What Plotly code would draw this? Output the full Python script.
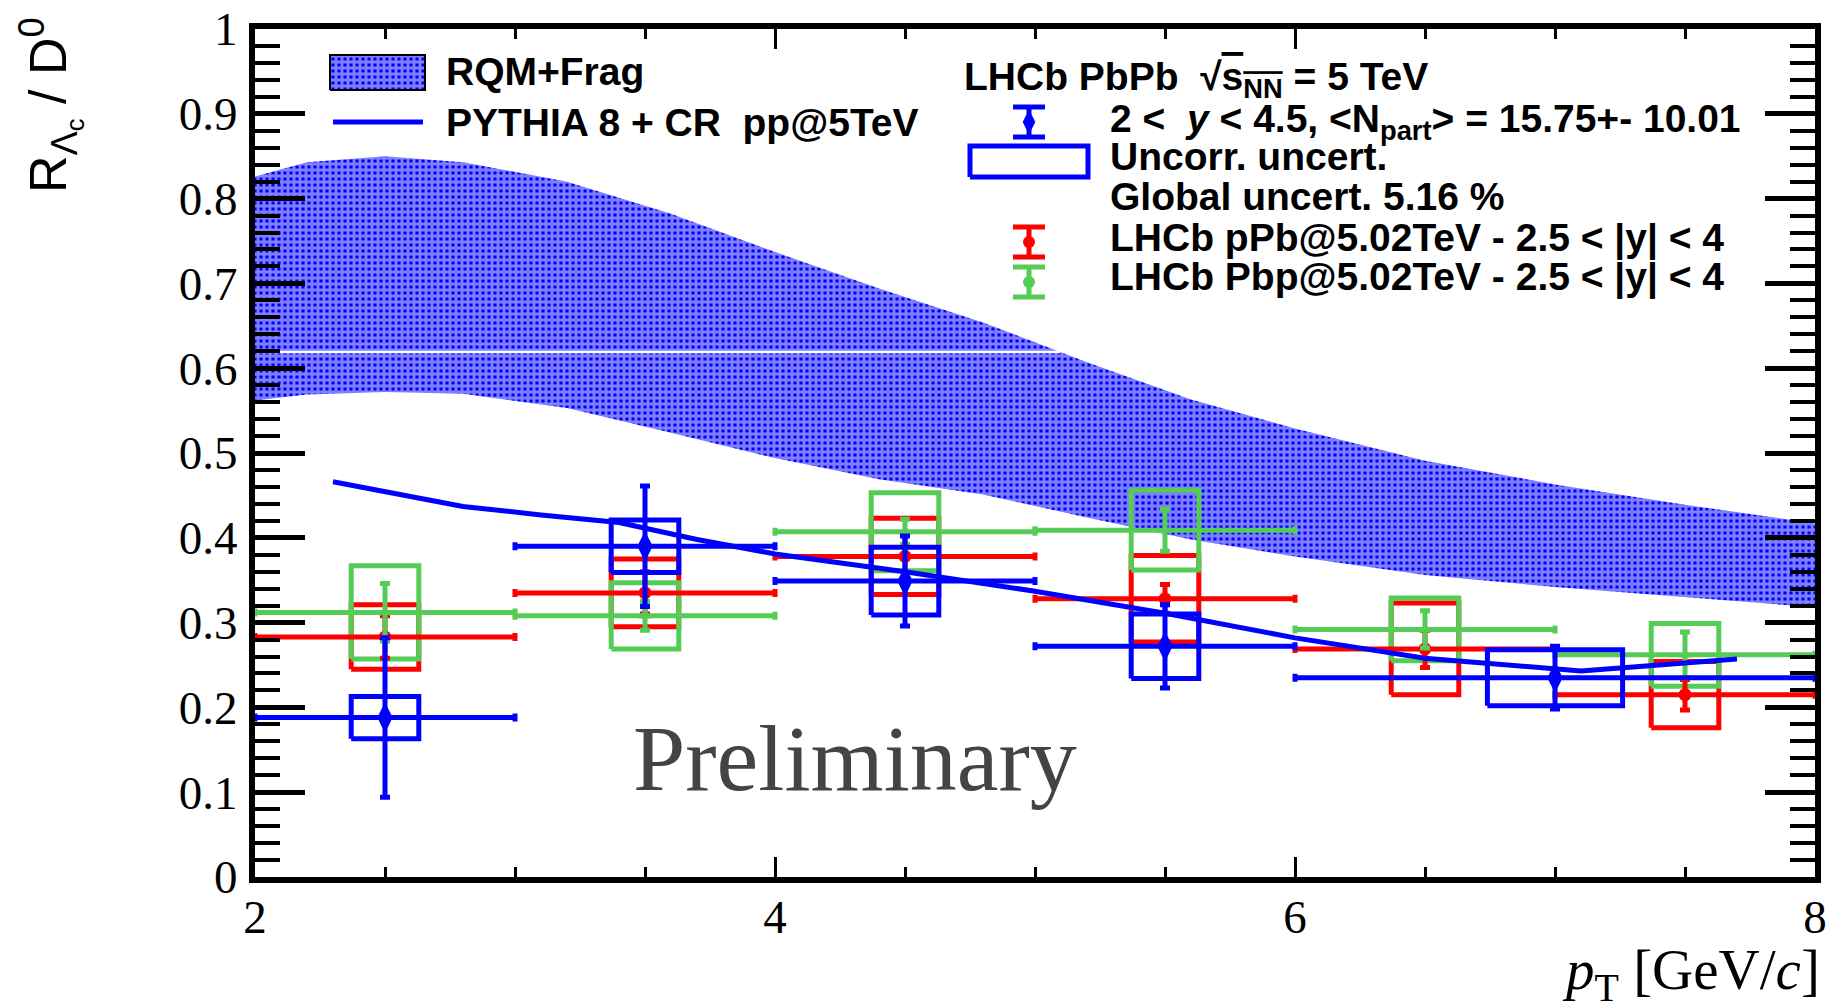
import numpy as np
import plotly.graph_objects as go

# ---------------- data ----------------
# RQM+Frag theory band
band_pt = [2.0, 2.2, 2.5, 2.8, 3.2, 3.6, 4.0, 4.4, 4.8, 5.2, 5.6, 6.0, 6.5, 7.0, 7.5, 8.0]
band_hi = [0.826, 0.843, 0.850, 0.843, 0.820, 0.782, 0.737, 0.694, 0.654, 0.607, 0.563, 0.529, 0.491, 0.463, 0.439, 0.417]
band_lo = [0.562, 0.569, 0.572, 0.570, 0.553, 0.524, 0.494, 0.469, 0.451, 0.424, 0.398, 0.378, 0.356, 0.342, 0.330, 0.318]
band_seam = 0.619

# PYTHIA 8 + CR pp@5TeV
pythia_pt = [2.3, 2.5, 2.8, 3.1, 3.4, 3.7, 4.0, 4.5, 5.0, 5.5, 6.0, 6.5, 7.0, 7.1, 7.4, 7.7]
pythia_r = [0.466, 0.455, 0.437, 0.427, 0.418, 0.398, 0.381, 0.360, 0.337, 0.311, 0.282, 0.258, 0.245, 0.243, 0.250, 0.257]

# LHCb PbPb
pbpb_pt = [2.5, 3.5, 4.5, 5.5, 7.0]
pbpb_bin = [0.5, 0.5, 0.5, 0.5, 1.0]
pbpb_r = [0.188, 0.390, 0.349, 0.272, 0.235]
pbpb_stat = [0.094, 0.071, 0.053, 0.049, 0.037]
pbpb_syst = [0.025, 0.031, 0.040, 0.038, 0.033]

# LHCb pPb
ppb_pt = [2.5, 3.5, 4.5, 5.5, 6.5, 7.5]
ppb_bin = [0.5, 0.5, 0.5, 0.5, 0.5, 0.5]
ppb_r = [0.283, 0.335, 0.378, 0.328, 0.269, 0.215]
ppb_stat = [0.025, 0.025, 0.025, 0.017, 0.022, 0.018]
ppb_syst = [0.038, 0.040, 0.045, 0.051, 0.054, 0.039]

# LHCb Pbp
pbp_pt = [2.5, 3.5, 4.5, 5.5, 6.5, 7.5]
pbp_bin = [0.5, 0.5, 0.5, 0.5, 0.5, 0.5]
pbp_r = [0.312, 0.308, 0.407, 0.409, 0.292, 0.262]
pbp_stat = [0.034, 0.017, 0.015, 0.025, 0.022, 0.027]
pbp_syst = [0.055, 0.039, 0.046, 0.047, 0.037, 0.037]

x_ticks = [2, 4, 6, 8]

# ---------------- style ----------------
BLUE = "#0000ff"
RED = "#ff0000"
GREEN = "#55cc55"
BOX_FRAC = 0.26
LW = 5
SANS = "Liberation Sans, Arial, sans-serif"
SERIF = "Liberation Serif, Times New Roman, serif"
PATTERN = dict(shape="+", fgcolor="white", bgcolor=BLUE, size=6, solidity=0.72)

# plot-area geometry in pixels (for paper conversions of legend items)
L, R, T, B = 255, 1815, 29, 877
W, H = 1834, 1008


def PX(px):
    return (px - L) / (R - L)


def PY(py):
    return (B - py) / (B - T)


def box_path(xs, bins, ys, sy):
    bx, by = [], []
    for x, b, y, s in zip(xs, bins, ys, sy):
        h = BOX_FRAC * b
        bx += [x - h, x + h, x + h, x - h, x - h, None]
        by += [y - s, y - s, y + s, y + s, y - s, None]
    return bx, by


fig = go.Figure()

# theory band
fig.add_trace(go.Scatter(
    x=band_pt + band_pt[::-1], y=band_hi + band_lo[::-1],
    fill="toself", mode="lines", line=dict(width=0, color=BLUE),
    fillcolor=BLUE, fillpattern=PATTERN,
    hoverinfo="skip", showlegend=False))

# seam artefact in the band
hi_arr = np.array(band_hi)
pt_arr = np.array(band_pt)
seam_end = float(np.interp(band_seam, hi_arr[::-1], pt_arr[::-1]))
fig.add_trace(go.Scatter(x=[band_pt[0], seam_end], y=[band_seam, band_seam], mode="lines",
                         line=dict(color="white", width=2.5), hoverinfo="skip", showlegend=False))


def add_boxes(xs, bins, ys, sy, color):
    bx, by = box_path(xs, bins, ys, sy)
    fig.add_trace(go.Scatter(x=bx, y=by, mode="lines", line=dict(color=color, width=LW),
                             hoverinfo="skip", showlegend=False))


def add_points(xs, bins, ys, st, color, symbol, size):
    fig.add_trace(go.Scatter(
        x=xs, y=ys, mode="markers",
        marker=dict(color=color, symbol=symbol, size=size, line=dict(width=0)),
        error_x=dict(type="data", array=bins, symmetric=True, color=color, thickness=LW, width=4),
        error_y=dict(type="data", array=st, symmetric=True, color=color, thickness=LW, width=5),
        showlegend=False))


add_boxes(ppb_pt, ppb_bin, ppb_r, ppb_syst, RED)
add_boxes(pbp_pt, pbp_bin, pbp_r, pbp_syst, GREEN)
add_points(ppb_pt, ppb_bin, ppb_r, ppb_stat, RED, "circle", 13)
add_points(pbp_pt, pbp_bin, pbp_r, pbp_stat, GREEN, "triangle-up", 11)
add_boxes(pbpb_pt, pbpb_bin, pbpb_r, pbpb_syst, BLUE)
add_points(pbpb_pt, pbpb_bin, pbpb_r, pbpb_stat, BLUE, "diamond-tall", 22)

# PYTHIA curve
fig.add_trace(go.Scatter(x=pythia_pt, y=pythia_r, mode="lines",
                         line=dict(color=BLUE, width=LW), showlegend=False))

# ---------------- legend glyphs (overlay paper-like axes) ----------------
sx0, sx1, sy0, sy1 = PX(330), PX(425), PY(90), PY(55)
fig.add_trace(go.Scatter(
    x=[sx0, sx1, sx1, sx0, sx0], y=[sy0, sy0, sy1, sy1, sy0], xaxis="x2", yaxis="y2",
    fill="toself", mode="lines", line=dict(color="black", width=2), fillcolor=BLUE,
    fillpattern=PATTERN, hoverinfo="skip", showlegend=False))
fig.add_trace(go.Scatter(x=[PX(333), PX(423)], y=[PY(122), PY(122)], xaxis="x2", yaxis="y2",
                         mode="lines", line=dict(color=BLUE, width=LW), showlegend=False))

gx = PX(1029)
half_cap = 8


def legend_err(py, color, symbol, size):
    fig.add_trace(go.Scatter(
        x=[gx], y=[PY(py)], xaxis="x2", yaxis="y2", mode="markers",
        marker=dict(color=color, symbol=symbol, size=size),
        error_y=dict(type="constant", value=15 / (B - T), color=color, thickness=LW, width=half_cap * 2),
        showlegend=False))


legend_err(122, BLUE, "diamond-tall", 18)
legend_err(242, RED, "circle", 12)
legend_err(282, GREEN, "circle", 12)
bx0, bx1, by0, by1 = PX(970), PX(1088), PY(177), PY(146)
fig.add_trace(go.Scatter(x=[bx0, bx1, bx1, bx0, bx0], y=[by0, by0, by1, by1, by0], xaxis="x2", yaxis="y2",
                         mode="lines", line=dict(color=BLUE, width=LW), showlegend=False))

# ---------------- annotations ----------------
LEGFONT = dict(family=SANS, size=39, color="black")
ann = []


def txt(text, px, py, **kw):
    d = dict(text=text, x=PX(px), y=PY(py), xref="paper", yref="paper", showarrow=False,
             xanchor="left", yanchor="middle", font=LEGFONT)
    d.update(kw)
    ann.append(d)


txt("<b>RQM+Frag</b>", 444, 72)
txt("<b>PYTHIA 8 + CR&nbsp;&nbsp;pp@5TeV</b>", 444, 123)
txt("<b>LHCb PbPb&nbsp;&nbsp;√<span style='text-decoration:overline'>s<sub>NN</sub></span> = 5 TeV</b>", 962, 79)
txt("<b>2 &lt;&nbsp;&nbsp;<i>y</i> &lt; 4.5, &lt;N<sub>part</sub>&gt; = 15.75+- 10.01</b>", 1108, 121)
txt("<b>Uncorr. uncert.</b>", 1108, 156)
txt("<b>Global uncert. 5.16 %</b>", 1108, 197)
txt("<b>LHCb pPb@5.02TeV - 2.5 &lt; |y| &lt; 4</b>", 1108, 238)
txt("<b>LHCb Pbp@5.02TeV - 2.5 &lt; |y| &lt; 4</b>", 1108, 277)

# Preliminary
ann.append(dict(text="Preliminary", x=PX(855), y=PY(758), xref="paper", yref="paper", showarrow=False,
                xanchor="center", yanchor="middle", font=dict(family=SERIF, size=94, color="#444444")))
# axis titles
ann.append(dict(text="R<sub>Λ<sub>c</sub></sub> / D<sup>0</sup>", x=PX(50), y=PY(105), xref="paper",
                yref="paper", showarrow=False, textangle=-90, xanchor="center", yanchor="middle",
                font=dict(family=SANS, size=52, color="black")))
ann.append(dict(text="<i>p</i><sub>T</sub> [GeV/<i>c</i>]", x=PX(1822), y=PY(974), xref="paper",
                yref="paper", showarrow=False, xanchor="right", yanchor="middle",
                font=dict(family=SERIF, size=57, color="black")))

fig.update_layout(
    width=W, height=H, margin=dict(l=L, r=W - R, t=T, b=H - B, autoexpand=False),
    paper_bgcolor="white", plot_bgcolor="white", showlegend=False,
    annotations=ann,
    xaxis=dict(range=[2, 8], tickvals=x_ticks, ticktext=[str(v) for v in x_ticks],
               ticks="inside", ticklen=20, tickwidth=3, tickcolor="black",
               minor=dict(dtick=0.5, ticks="inside", ticklen=10, tickwidth=3, tickcolor="black"),
               showline=True, linewidth=6, linecolor="black", mirror="allticks",
               showgrid=False, zeroline=False, ticklabelstandoff=-6, automargin=False,
               tickfont=dict(family=SERIF, size=47, color="black")),
    yaxis=dict(range=[0, 1], dtick=0.1, tick0=0,
               ticks="inside", ticklen=50, tickwidth=5, tickcolor="black",
               minor=dict(dtick=0.02, ticks="inside", ticklen=25, tickwidth=4, tickcolor="black"),
               showline=True, linewidth=6, linecolor="black", mirror="allticks",
               showgrid=False, zeroline=False, ticklabelstandoff=2, automargin=False,
               tickfont=dict(family=SERIF, size=47, color="black")),
    xaxis2=dict(overlaying="x", range=[0, 1], visible=False, fixedrange=True),
    yaxis2=dict(overlaying="y", range=[0, 1], visible=False, fixedrange=True),
)

fig.write_html("out.html")
